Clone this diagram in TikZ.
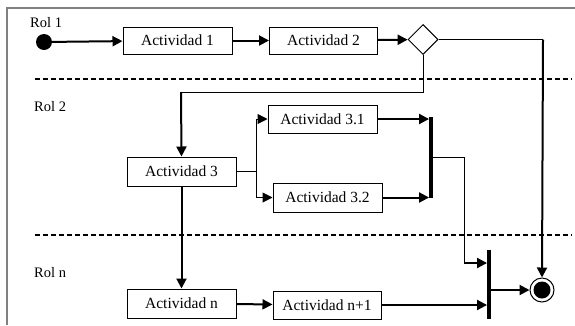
\documentclass[tikz,border=0pt]{standalone}
\usepackage{fontspec}
\setmainfont{Liberation Serif}
\usetikzlibrary{arrows.meta,shapes.geometric}
\begin{document}
\begin{tikzpicture}[x=1pt,y=-1pt,
  every node/.style={inner sep=0pt,font=\fontsize{15.5}{17}\selectfont},
  act/.style={draw,line width=1pt,minimum width=109pt,minimum height=28pt},
  bar/.style={fill,minimum width=3.5pt},
  tip/.style={-{Triangle[length=10pt,width=10pt]}},
  lane/.style={line width=1.8pt,dash pattern=on 5pt off 3pt}]
  \useasboundingbox (0,0) rectangle (575,325);
  \draw [gray,line width=2pt] (575,8) -- (7,8) -- (7,325);
  \draw [lane] (35,79) -- (572,79);
  \draw [lane] (35,235) -- (572,235);
  \node [anchor=west,font=\fontsize{14.5}{16}\selectfont] (r1) at (30,23) {Rol 1};
  \node [anchor=west,font=\fontsize{14.5}{16}\selectfont] (r2) at (34,107) {Rol 2};
  \node [anchor=west,font=\fontsize{14.5}{16}\selectfont] (rn) at (34,273) {Rol n};
  \node [fill,circle,minimum size=16pt] (s) at (44,42) {};
  \node [act,minimum height=27pt] (a1) at (177.5,40.5) {Actividad 1};
  \node [act,minimum height=27pt,minimum width=108pt] (a2) at (323.5,40.5) {Actividad 2};
  \node [draw,diamond,line width=1pt,minimum size=30pt] (d) at (423,39.5) {};
  \node [act,minimum height=29pt] (a3) at (181.5,171.5) {Actividad 3};
  \node [act] (a31) at (322.5,119) {Actividad 3.1};
  \node [act,minimum height=29pt] (a32) at (327.5,197.5) {Actividad 3.2};
  \node [act,minimum height=29pt] (an) at (181.5,303.5) {Actividad n};
  \node [act,minimum width=108pt] (an1) at (327,305) {Actividad n+1};
  \node [bar,minimum height=81pt] (j1) at (431,157.5) {};
  \node [bar,minimum height=69pt] (j2) at (489,284.5) {};
  \node [draw,circle,line width=1pt,minimum size=24pt] (e) at (542,290) {};
  \node [fill,circle,minimum size=17pt] (ei) at (542,290) {};
  \coordinate (c1) at (181,92);
  \coordinate (c2) at (543,39.5);
  \coordinate (c3) at (256,171.5);
  \coordinate (c4) at (464,263);
  \draw [tip,line width=2pt] (s) -- (a1);
  \draw [tip,line width=2pt] (a1) -- (a2);
  \draw [tip,line width=2pt] (a2) -- (d);
  \draw [line width=1pt] (d.east) -- (c2);
  \draw [tip,line width=2pt] (c2) -- (e.north);
  \draw [line width=1pt] (d.south) |- (c1);
  \draw [tip,line width=2pt] (c1) -- (a3.north);
  \draw [line width=1pt] (a3.east) -- (c3);
  \draw [tip,line width=1pt] (c3) |- (a31.west);
  \draw [tip,line width=1pt] (c3) |- (a32.west);
  \draw [tip,line width=2pt] (a31.east) -- (a31.east -| j1.west);
  \draw [tip,line width=2pt] (a32.east) -- (a32.east -| j1.west);
  \draw [line width=1pt] (j1.east) -| (c4);
  \draw [tip,line width=2pt] (c4) -- (c4 -| j2.west);
  \draw [tip,line width=2pt] (a3.south) -- (an.north);
  \draw [tip,line width=2pt] (an) -- (an1);
  \draw [tip,line width=2pt] (an1.east) -- (an1.east -| j2.west);
  \draw [tip,line width=2pt] (j2.east |- e) -- (e.west);
\end{tikzpicture}
\end{document}
